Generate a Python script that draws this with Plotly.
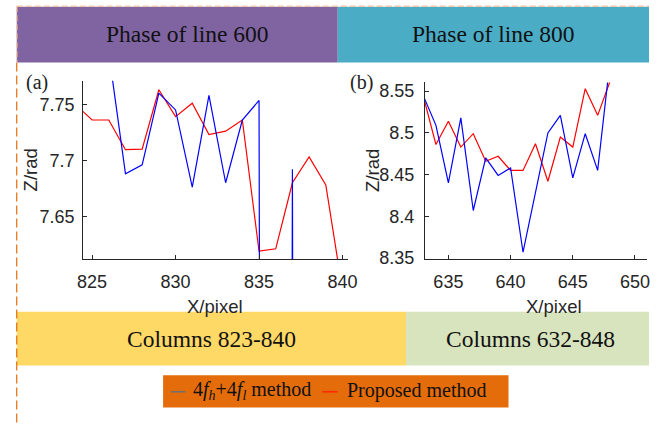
import plotly.graph_objects as go

W, H = 659, 433

# ---- data ----
x_a = [824, 825, 826, 827, 828, 829, 830, 831, 832, 833, 834, 835, 836, 837, 838, 839, 840]
prop_a = [7.750, 7.736, 7.736, 7.7095, 7.710, 7.763, 7.739, 7.751, 7.723, 7.726, 7.736,
          7.619, 7.621, 7.680, 7.703, 7.678, 7.584]
x_a_blue = [826, 827, 828, 829, 830, 831, 832, 833, 834, 835, 836, 837, 838, 839, 840]
old_a = [7.796, 7.688, 7.696, 7.760, 7.745, 7.676, 7.758, 7.680, 7.736, 7.7535,
         1.47, 7.692, 1.45, 1.46, 1.45]

x_b = [633, 634, 635, 636, 637, 638, 639, 640, 641, 642, 643, 644, 645, 646, 647, 648]
prop_b = [8.543, 8.486, 8.514, 8.483, 8.499, 8.466, 8.472, 8.455, 8.455, 8.487, 8.442,
          8.495, 8.483, 8.553, 8.521, 8.562]
old_b = [8.544, 8.509, 8.440, 8.518, 8.407, 8.470, 8.449, 8.458, 8.357, 8.428, 8.500,
         8.521, 8.446, 8.499, 8.455, 8.587]

ticks_a = [825, 830, 835, 840]
ticks_ay = [7.65, 7.7, 7.75]
ticks_b = [635, 640, 645, 650]
ticks_by = [8.35, 8.4, 8.45, 8.5, 8.55]

headers = ["Phase of line 600", "Phase of line 800"]
footers = ["Columns 823-840", "Columns 632-848"]
legend_names = ["4<i>f</i><sub><i>h</i></sub>+4<i>f</i><sub><i>l</i></sub> method", "Proposed method"]


def px(x):
    return x / W


def py(y):
    return 1 - y / H


fig = go.Figure()
fig.add_trace(go.Scatter(x=x_a, y=prop_a, mode="lines", line=dict(color="#FF0000", width=1.2),
                         xaxis="x", yaxis="y", showlegend=False))
fig.add_trace(go.Scatter(x=x_a_blue, y=old_a, mode="lines", line=dict(color="#0000FF", width=1.2),
                         xaxis="x", yaxis="y", showlegend=False))
fig.add_trace(go.Scatter(x=x_b, y=prop_b, mode="lines", line=dict(color="#FF0000", width=1.2),
                         xaxis="x2", yaxis="y2", showlegend=False))
fig.add_trace(go.Scatter(x=x_b, y=old_b, mode="lines", line=dict(color="#0000FF", width=1.2),
                         xaxis="x2", yaxis="y2", showlegend=False))

tickfont = dict(family="Liberation Sans", size=18, color="#262626")
axis_common = dict(showline=True, linecolor="#262626", linewidth=1, ticks="inside", ticklen=4,
                   tickcolor="#262626", showgrid=False, zeroline=False, tickfont=tickfont)

fig.update_layout(
    width=W, height=H, margin=dict(l=0, r=0, t=0, b=0),
    paper_bgcolor="white", plot_bgcolor="rgba(0,0,0,0)",
    xaxis=dict(domain=[px(79), px(350)], range=[824.46, 840.3], tickvals=ticks_a,
               anchor="y", ticklabelstandoff=6, **axis_common),
    yaxis=dict(domain=[py(264), py(81.7)], range=[7.612, 7.771], tickvals=ticks_ay,
               ticktext=["7.65", "7.7", "7.75"], anchor="x", ticklabelstandoff=4, **axis_common),
    xaxis2=dict(domain=[px(429.3), px(657)], range=[633.11, 650.97], tickvals=ticks_b,
                anchor="y2", ticklabelstandoff=6, **axis_common),
    yaxis2=dict(domain=[py(264), py(83.3)], range=[8.349, 8.5605], tickvals=ticks_by,
                ticktext=["8.35", "8.4", "8.45", "8.5", "8.55"], anchor="x2", ticklabelstandoff=6,
                **axis_common),
)

shapes = []
# header bars
shapes.append(dict(type="rect", xref="paper", yref="paper", x0=px(11), x1=px(340), y0=py(63), y1=py(6),
                   fillcolor="#8064A2", line=dict(width=0), layer="below"))
shapes.append(dict(type="rect", xref="paper", yref="paper", x0=px(340), x1=px(659), y0=py(63), y1=py(6),
                   fillcolor="#4BACC6", line=dict(width=0), layer="below"))
# footer bars
shapes.append(dict(type="rect", xref="paper", yref="paper", x0=px(11), x1=px(410), y0=py(373), y1=py(318),
                   fillcolor="#FFD966", line=dict(width=0), layer="below"))
shapes.append(dict(type="rect", xref="paper", yref="paper", x0=px(410), x1=px(659), y0=py(373), y1=py(318),
                   fillcolor="#D7E4BD", line=dict(width=0), layer="below"))
# legend box
shapes.append(dict(type="rect", xref="paper", yref="paper", x0=px(161), x1=px(515), y0=py(416), y1=py(383),
                   fillcolor="#E46C0A", line=dict(width=0), layer="below"))
# legend line samples
shapes.append(dict(type="line", xref="paper", yref="paper", x0=px(169), x1=px(184), y0=py(400), y1=py(400),
                   line=dict(color="#6F6F6F", width=1.6)))
shapes.append(dict(type="line", xref="paper", yref="paper", x0=px(324), x1=px(340), y0=py(400), y1=py(400),
                   line=dict(color="#FF2A00", width=1.6)))
# dashed borders
shapes.append(dict(type="line", xref="paper", yref="paper", x0=px(11), x1=px(659), y0=py(5.5), y1=py(5.5),
                   line=dict(color="#F2C6A6", width=1.5, dash="6px,3px")))
shapes.append(dict(type="line", xref="paper", yref="paper", x0=px(11), x1=px(11), y0=py(5.5), y1=py(63),
                   line=dict(color="#F2C6A6", width=1.5, dash="6px,3px")))
shapes.append(dict(type="line", xref="paper", yref="paper", x0=px(11), x1=px(11), y0=py(63), y1=py(433),
                   line=dict(color="#E46C0A", width=1.2, dash="9px,4px"), layer="below"))
fig.update_layout(shapes=shapes)

serif = "Liberation Serif"
sans = "Liberation Sans"
ann = []


def text(x, y, s, size, family, angle=0, color="black"):
    ann.append(dict(x=px(x), y=py(y), xref="paper", yref="paper", text=s, showarrow=False,
                    xanchor="center", yanchor="middle", textangle=angle,
                    font=dict(family=family, size=size, color=color)))


text(186, 34, headers[0], 23.5, serif, color="#111111")
text(500, 34, headers[1], 23.5, serif, color="#111111")
text(211, 346, footers[0], 23.5, serif, color="#111111")
text(538, 346, footers[1], 23.5, serif, color="#111111")
text(32, 83, "(a)", 20, serif, color="#222222")
text(364, 83, "(b)", 20, serif, color="#222222")
text(25, 173, "Z/rad", 18.5, sans, angle=-90, color="#262626")
text(375, 173, "Z/rad", 18.5, sans, angle=-90, color="#262626")
text(214, 313, "X/pixel", 18.5, sans, color="#262626")
text(562, 313, "X/pixel", 18.5, sans, color="#262626")
ann.append(dict(x=px(190), y=py(399), xref="paper", yref="paper", text=legend_names[0], showarrow=False,
                xanchor="left", yanchor="middle", font=dict(family=serif, size=20, color="#111111")))
ann.append(dict(x=px(347), y=py(399), xref="paper", yref="paper", text=legend_names[1], showarrow=False,
                xanchor="left", yanchor="middle", font=dict(family=serif, size=20, color="#111111")))
fig.update_layout(annotations=ann)

fig.write_html("out.html")
